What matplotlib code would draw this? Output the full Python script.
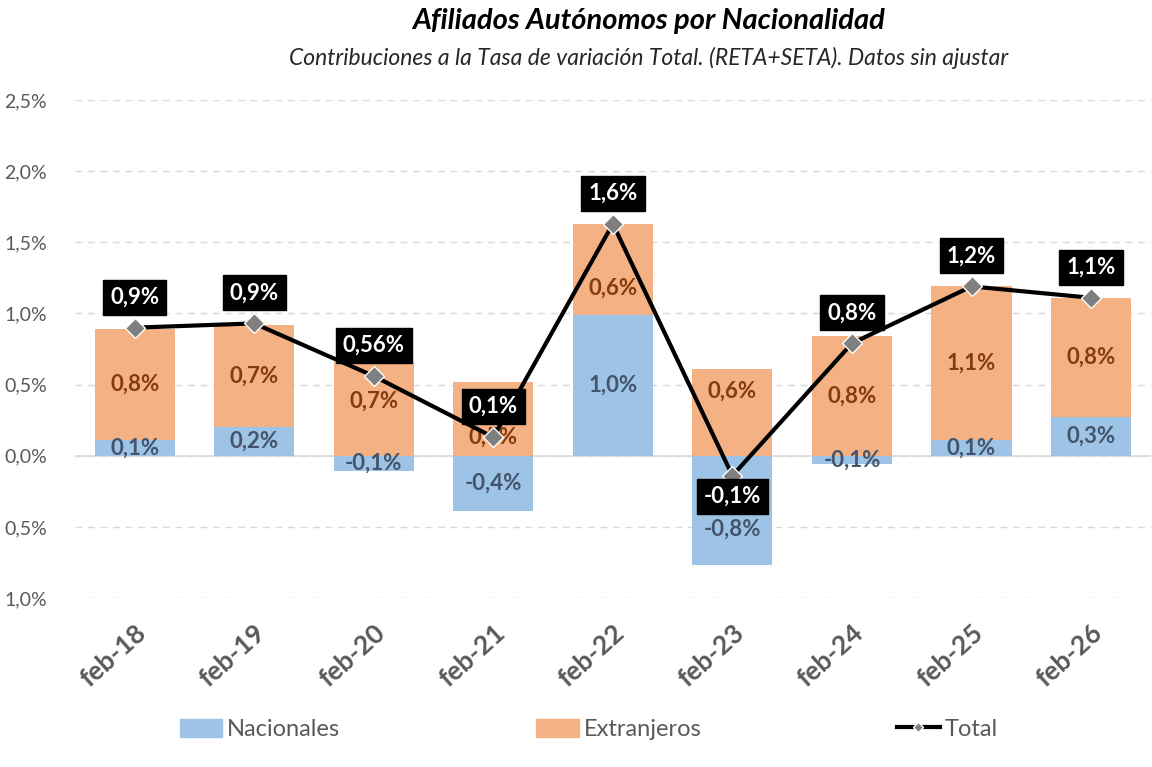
import numpy as np
import matplotlib.pyplot as plt
from matplotlib.patches import Patch
from matplotlib.lines import Line2D
from matplotlib.ticker import FuncFormatter, MultipleLocator

plt.rcParams['font.family'] = ['Lato', 'DejaVu Sans']

# datos (puntos porcentuales)
periodos = ["feb-18", "feb-19", "feb-20", "feb-21", "feb-22", "feb-23", "feb-24", "feb-25", "feb-26"]
nacionales = [0.11, 0.20, -0.11, -0.39, 0.99, -0.77, -0.06, 0.11, 0.27]
extranjeros = [0.78, 0.72, 0.66, 0.52, 0.64, 0.61, 0.84, 1.08, 0.84]
total = [0.90, 0.93, 0.56, 0.13, 1.63, -0.14, 0.79, 1.19, 1.11]
decimales_total = [1, 1, 2, 1, 1, 1, 1, 1, 1]

# desplazamientos manuales de etiquetas (como en el original)
ajuste_nac = [0, 0, 0, 0, 0, -0.13, 0, 0, 0]
ajuste_ext = [0, 0, 0.05, -0.13, -0.13, 0.15, 0, 0, 0]

c_nac = "#9DC3E6"
c_ext = "#F4B183"
gris = "#595959"


def fmt(v, dec=1):
    return f"{v:.{dec}f}%".replace(".", ",")


fig = plt.figure(figsize=(11.52, 7.67), dpi=100)
ax = fig.add_axes([0.065, 0.2203, 0.934, 0.6493])

x = np.arange(len(periodos))
w = 0.67
nac = np.array(nacionales)
ext = np.array(extranjeros)
# apilado estilo Excel: positivos sobre positivos, negativos hacia abajo
base_ext = np.where(nac > 0, nac, 0)

ax.bar(x, nac, w, color=c_nac, zorder=2)
ax.bar(x, ext, w, bottom=base_ext, color=c_ext, zorder=2)

for i in range(len(x)):
    ax.text(x[i], nac[i] / 2 + ajuste_nac[i], fmt(nac[i]), ha="center", va="center",
            fontsize=16, fontweight="bold", color="#44546A", zorder=3)
    ax.text(x[i], base_ext[i] + ext[i] / 2 + ajuste_ext[i], fmt(ext[i]), ha="center",
            va="center", fontsize=16, fontweight="bold", color="#843C0C", zorder=3)

ax.plot(x, total, color="black", lw=3, zorder=4,
        marker="D", markersize=10, markerfacecolor="#7F7F7F",
        markeredgecolor="white", markeredgewidth=1)

for i in range(len(x)):
    dy = -15 if total[i] < 0 else 22
    ax.annotate(fmt(total[i], decimales_total[i]), (x[i], total[i]),
                xytext=(0, dy), textcoords="offset points",
                ha="center", va="center", fontsize=16, fontweight="bold",
                color="white", zorder=5,
                bbox=dict(boxstyle="square,pad=0.32", fc="black", ec="black"))

ax.set_xlim(-0.5, len(x) - 0.5)
ax.set_ylim(-1.0, 2.5)
ax.yaxis.set_major_locator(MultipleLocator(0.5))
ax.yaxis.set_major_formatter(FuncFormatter(lambda v, p: fmt(abs(v))))
ax.grid(axis="y", color="#D9D9D9", ls=(0, (5, 4)), lw=1, zorder=0)
ax.axhline(0, color="#D9D9D9", lw=1.2, zorder=1)

ax.set_xticks(x)
ax.set_xticklabels(periodos, rotation=42, ha="right", rotation_mode="anchor",
                   fontsize=19, fontweight="bold", color=gris)
ax.tick_params(axis="x", length=0, pad=16)
ax.tick_params(axis="y", length=0, pad=20, labelsize=14, labelcolor=gris)
for s in ax.spines.values():
    s.set_visible(False)

fig.text(0.563, 0.972, "Afiliados Autónomos por Nacionalidad", ha="center", va="center",
         fontsize=21, fontweight="bold", style="italic", color="black")
fig.text(0.563, 0.925, "Contribuciones a la Tasa de variación Total. (RETA+SETA). Datos sin ajustar",
         ha="center", va="center", fontsize=16.5, style="italic", color="#262626")

handles = [Patch(color=c_nac), Patch(color=c_ext),
           Line2D([], [], color="black", lw=3, marker="D", markersize=5,
                  markerfacecolor="#7F7F7F", markeredgecolor="white")]
fig.legend(handles, ["Nacionales", "Extranjeros", "Total"], ncol=3, loc="center",
           bbox_to_anchor=(0.511, 0.049), frameon=False, fontsize=17,
           labelcolor=gris, handlelength=1.8, handleheight=0.8, handletextpad=0.2,
           columnspacing=8.3)

fig.savefig("out.png", dpi=100)
